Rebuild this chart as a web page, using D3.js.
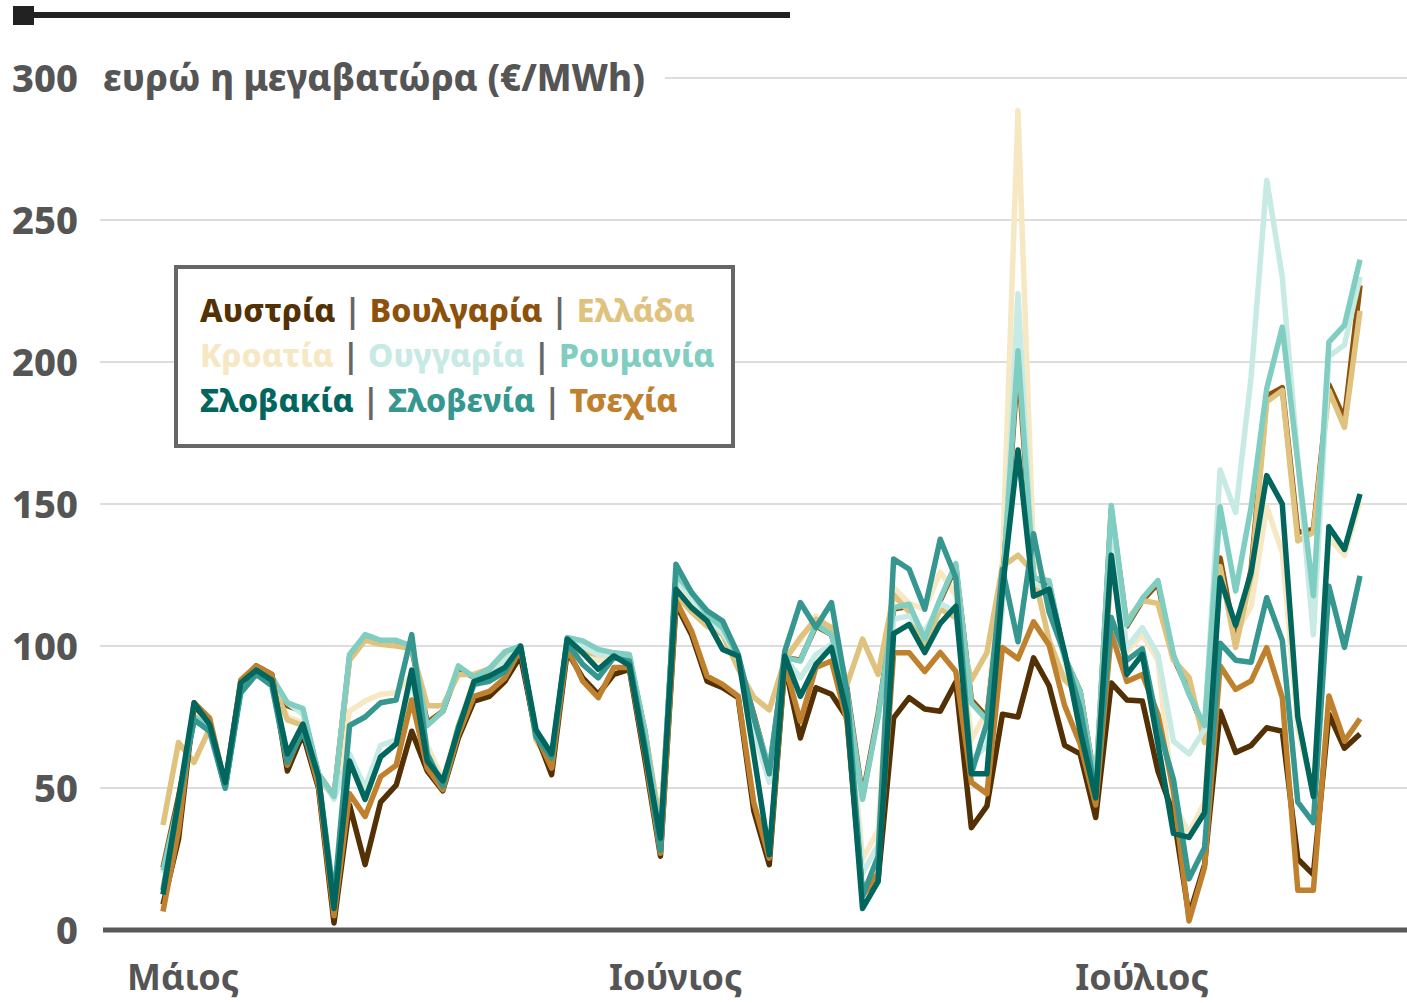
<!DOCTYPE html>
<html><head><meta charset="utf-8">
<script src="https://cdn.jsdelivr.net/npm/d3@7"></script>
<style>body{margin:0;background:#fff}svg{display:block}</style>
</head><body><svg id="c" width="1407" height="1003"></svg>
<script>
// ---- data ----
const firstDay = new Date(2024, 4, 1);   // 1 May 2024
const lastDay  = new Date(2024, 6, 17);  // 17 July 2024
const dates = d3.timeDay.range(firstDay, d3.timeDay.offset(lastDay, 1));

const countries = ["Αυστρία","Βουλγαρία","Ελλάδα","Κροατία","Ουγγαρία","Ρουμανία","Σλοβακία","Σλοβενία","Τσεχία"];
const colors    = ["#543005","#8c510a","#dfc27d","#f6e8c3","#c7eae5","#80cdc1","#01665e","#35978f","#bf812d"];

const austria = [9,32,79,73,51,87,93,90,56,69, 50,2.5,44,23,45,51,70,56,49,67.6, 80.6,82.3,87.6,96.5,69,54.7,98,88.8,83,90,
  91.8,60,26,114.7,104,87.6,85.3,81.8,42,23, 93.5,67.6,85.3,83,74.7,13,17.6,74.7,81.8,77.8, 77,87.3,36,43.6,76,75,95.8,86,65,62,
  39.6,87,81,80.6,56,40.7,5,23,77,62.5, 65,71.2,70,25,19.5,76,64,69];
const bulgaria = [22,47,74,72,50,85,91,89,79,77, 55,47,96,103,101,101,99,73,77,92, 89,92,97,100,68,60,102,101,98,97,
  96,70,34,124,118,110,106,95,76,56, 96,95,107,104,85,47,76,113,114,102, 116,128,81,75,121,200,124,122,96,84,
  50,148,107,116,122,96,84,70,131,102, 127,188,191,140,141,192,180,227];
const greece = [37,66,59,71,51,87,92,88,74,72, 53,47,95,102,100.6,100,99,79,79,90, 90,92,97,100,67,58,98,98,97,97,
  94.7,70,37,118,112,107,104,92,82,77.5, 95,103,109.4,106.5,86.5,102.4,90,118,112,100.6, 113,110,88,97.7,128,132,126,102,88,83,
  46,128,109,116,115,95,89,66,128,99.5, 124.7,186,190,137,140,190,177,218];
const croatia = [15,45,78,72,51,86,91,88,75,73, 54,46.5,77,80.6,83,83.5,90,65,53,72, 88,90,95,100,67,60,100,97,95,96,
  95,66,30,120.6,114,110,106.5,94,72,54, 96,102,110.6,106,85,25,35,120.6,115,113, 126,118,67,77,130,288.5,132,120,95,75,
  45,130,98,104,95,45,34,45,126,104, 114,149,133,71,48,138,132,151];
const hungary = [20,42,76,72,50,85,90,88,80,76, 55,46,62,50,65,67,88,62,52,70, 86,89,95,100,68,60,102,100,97,97,
  96,66,30,123.5,117,110,104.7,96,70,52, 96,88.8,97,100.6,82,20,30,109.4,110.6,105, 115,112,59.8,65,113,224,122,120,95,78,
  52,140,99.4,106.5,97,66.5,62,70.6,162,147, 195,264,230,166,104,202,206,230];
const romania = [21,45,75,72,50,85,91,89,80,78, 55,47,97,104,102,102,100,72,77,93, 89,92,98,100,68,60,103,101.8,98.8,97.6,
  97,70,33,125,119,111,106.5,96,75,57, 96,94.7,107.6,104,84,46,75,113.5,114.7,102.5, 116.7,129,80,74,120,204,124,123,96,84,
  50,149.5,107.5,116.8,123,97,83,72,149,119.4, 149,190.6,212.3,164.6,117.7,207,213,236];
const slovakia = [12.5,46,80,72.4,52,87,91.5,88,62,72.5, 54,7.6,59.5,46,61,65.5,91.5,59.5,52.5,70.5, 87.5,89.5,92.5,99.8,70.4,62,102.5,97.6,91.8,96.5,
  93.2,63,32.4,120,113.5,108.8,98.8,96.5,62,26.5, 96.5,82.3,93.5,99.5,76,7.6,17,104.4,107.6,97.7, 108,114,55,55,120,169,117.5,120,97.7,70,
  46.5,132,90,97,65.6,34,32.6,41.3,124,107.3, 126,160,150,75,47,142,134,153.5];
const slovenia = [14,45,74,70,50,83.5,90,86,59,70, 54,11,72,75,80,81,104,62,50.6,71.6, 86.5,87.6,91,100,68,60.6,101,93.5,88.8,95.9,
  94.7,65,28,128.8,118.8,112.4,108.8,97,75,55, 98.2,115.3,106.5,115.3,84,12,26,130.6,127,113, 137.6,124,55,73,127,101.5,139.5,112,97,78,
  47.8,110,95,99,72,53,18,29,101,95, 94.3,117,102,45,37.8,121,99.5,124.7];
const czechia = [6.5,35,80,74.6,51,88,93,90,58,71, 51,5,48,40,54,58,81,57,49.4,68.8, 82.3,84,88.8,99,69,57,99.4,87.6,81.8,92.4,
  92.4,62,27,115.9,105.3,89.4,86.5,82.3,45,25.3, 93.5,73.5,92.4,94.7,73.5,12,20,97.6,97.6,91, 97.7,91,52,48,99.5,95.5,108.5,100.3,79,65.5,
  44,104.5,87.5,90,76,49,3.2,22,93,84.7, 87.7,99.4,81.8,14,14,82.4,66.5,74.4];

const seriesValues = [austria, bulgaria, greece, croatia, hungary, romania, slovakia, slovenia, czechia];
const drawOrder = [3, 1, 2, 4, 5, 0, 8, 7, 6];

const yTicks = [0, 50, 100, 150, 200, 250, 300];
const yTitle = "ευρώ η μεγαβατώρα (€/MWh)";
const monthTicks = [new Date(2024,4,1), new Date(2024,5,1), new Date(2024,6,1)];
const monthLabels = ["Μάιος", "Ιούνιος", "Ιούλιος"];
const legendRows = [[0,1,2],[3,4,5],[6,7,8]];

// ---- chart ----
const FONT = "'Noto Sans', 'Open Sans', sans-serif";
const svg = d3.select("#c");
const W = 1407;
const x = d3.scaleTime().domain([firstDay, lastDay]).range([163, 1360]);
const y = d3.scaleLinear().domain([0, 300]).range([930, 78]);

// top decoration
svg.append("line").attr("x1", 14).attr("x2", 790).attr("y1", 15).attr("y2", 15)
  .attr("stroke", "#222").attr("stroke-width", 6);
svg.append("rect").attr("x", 13).attr("y", 6).attr("width", 21).attr("height", 19).attr("fill", "#222");

// gridlines
svg.append("g").selectAll("line").data(yTicks.filter(d => d > 0)).join("line")
  .attr("x1", d => d === 300 ? 665 : 100).attr("x2", W)
  .attr("y1", d => y(d)).attr("y2", d => y(d))
  .attr("stroke", "#dddddd").attr("stroke-width", 2);

// y labels
svg.append("g").selectAll("text").data(yTicks).join("text")
  .attr("x", 78).attr("y", d => y(d)).attr("dy", "0.36em")
  .attr("text-anchor", "end").attr("font-family", FONT).attr("font-weight", 800)
  .attr("font-size", 38).attr("fill", "#555").text(d => d);
svg.append("text").attr("x", 103).attr("y", y(300)).attr("dy", "0.36em")
  .attr("font-family", FONT).attr("font-weight", 800).attr("font-size", 36.5).attr("fill", "#555")
  .text(yTitle);

// lines
const line = d3.line().x((d, i) => x(dates[i])).y(d => y(d));
const g = svg.append("g");
drawOrder.forEach(k => {
  g.append("path").datum(seriesValues[k]).attr("d", line)
    .attr("fill", "none").attr("stroke", colors[k]).attr("stroke-width", 5.5)
    .attr("stroke-linejoin", "round");
});

// x axis baseline
svg.append("line").attr("x1", 103).attr("x2", W).attr("y1", y(0)).attr("y2", y(0))
  .attr("stroke", "#595959").attr("stroke-width", 5);

// month labels
svg.append("g").selectAll("text").data(monthTicks).join("text")
  .attr("x", d => x(d) - 36).attr("y", 990)
  .attr("font-family", FONT).attr("font-weight", 700).attr("font-size", 36).attr("fill", "#555")
  .text((d, i) => monthLabels[i]);

// legend
const lg = svg.append("g");
lg.append("rect").attr("x", 176).attr("y", 267).attr("width", 557).attr("height", 179)
  .attr("fill", "#fff").attr("stroke", "#666").attr("stroke-width", 4);
legendRows.forEach((row, r) => {
  const t = lg.append("text").attr("x", 200).attr("y", 322 + r * 45)
    .attr("font-family", FONT).attr("font-weight", 800).attr("font-size", 32);
  row.forEach((k, j) => {
    if (j > 0) t.append("tspan").attr("fill", "#666").attr("font-weight", 700).text(" | ");
    t.append("tspan").attr("fill", colors[k]).text(countries[k]);
  });
});
</script></body></html>
